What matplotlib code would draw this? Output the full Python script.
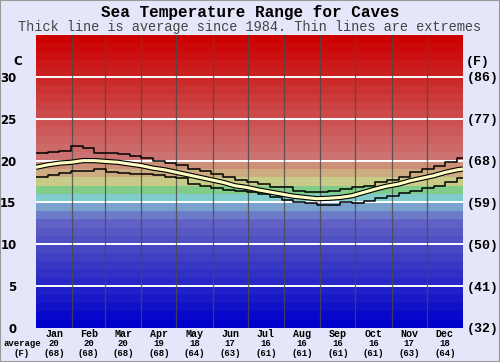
import matplotlib
matplotlib.use('Agg')
import matplotlib.pyplot as plt
from matplotlib.patches import Rectangle

# daily extremes / average, every 10 days
days = [0, 10, 20, 30, 40, 50, 60, 70, 80, 90, 100, 110, 120, 130, 140, 150, 160, 170, 180,
        190, 200, 210, 220, 230, 240, 250, 260, 270, 280, 290, 300, 310, 320, 330, 340, 350, 360]
t_max = [20.9, 21.0, 21.2, 21.7, 21.5, 20.9, 20.9, 20.8, 20.6, 20.3, 20.0, 19.7, 19.5, 19.0,
         18.8, 18.4, 18.0, 17.7, 17.5, 17.2, 16.9, 16.8, 16.4, 16.2, 16.2, 16.4, 16.6, 16.8,
         17.0, 17.4, 17.7, 18.0, 18.6, 19.0, 19.3, 19.8, 20.3]
t_avg = [19.2, 19.5, 19.7, 19.8, 20.0, 20.0, 19.9, 19.8, 19.6, 19.4, 19.1, 18.9, 18.6, 18.3,
         18.0, 17.7, 17.4, 17.0, 16.8, 16.5, 16.25, 16.0, 15.75, 15.6, 15.45, 15.5, 15.6, 15.8,
         16.2, 16.6, 16.95, 17.2, 17.6, 17.9, 18.2, 18.6, 18.9]
t_min = [18.1, 18.3, 18.5, 18.8, 18.8, 19.0, 18.6, 18.5, 18.4, 18.4, 18.3, 18.1, 17.9, 17.2,
         17.0, 16.75, 16.5, 16.35, 16.2, 16.0, 15.7, 15.3, 15.05, 14.9, 14.75, 14.7, 15.0, 14.9,
         15.2, 15.5, 15.8, 16.1, 16.4, 16.7, 17.0, 17.4, 17.9]

months = ['Jan', 'Feb', 'Mar', 'Apr', 'May', 'Jun', 'Jul', 'Aug', 'Sep', 'Oct', 'Nov', 'Dec']
month_len = [31, 28, 31, 30, 31, 30, 31, 31, 30, 31, 30, 31]
month_c = [20, 20, 20, 19, 18, 17, 16, 16, 16, 16, 17, 18]
month_f = [68, 68, 68, 68, 64, 63, 61, 61, 61, 61, 63, 64]

ticks_c = [0, 5, 10, 15, 20, 25, 30]
ticks_f = ['(32)', '(41)', '(50)', '(59)', '(68)', '(77)', '(86)']

# 1 degree colour bands, 0C .. 34C
bands = ['#0000cc', '#0808cc', '#1010c8', '#1818c8', '#2020c8', '#2828c8', '#3030c4',
         '#3838c4', '#4040c4', '#4848c4', '#5050c4', '#5858c4', '#6262c6', '#6c7cc8',
         '#7aa2cc', '#80cccc', '#80cc88', '#c8cc88', '#ccac80', '#cc9078', '#cc7272',
         '#cc6a6a', '#cc6262', '#cc5a5a', '#cc5252', '#cc4a4a', '#cc4242', '#cc3a3a',
         '#cc3232', '#cc2a2a', '#cc2020', '#cc1818', '#cc1010', '#cc0808', '#cc0000']

BG = '#e6e6fa'
MONO = 'Liberation Mono'

fig = plt.figure(figsize=(5, 3.62), dpi=100, facecolor=BG)
ax = fig.add_axes([0.072, 0.094, 0.854, 0.809])

for i, c in enumerate(bands):
    ax.axhspan(i, i + 1, color=c, lw=0, zorder=0)

for t in ticks_c[1:]:
    ax.axhline(t, color='white', lw=1.4, zorder=1)

edges = [0]
for n in month_len:
    edges.append(edges[-1] + n)
for e in edges[1:-1]:
    ax.axvline(e, color='#4a4a4a', lw=0.9, alpha=0.8, zorder=1)

xs = days + [365]
ax.step(xs, t_max + [t_max[-1]], where='post', color='black', lw=1.1, zorder=3)
ax.step(xs, t_min + [t_min[-1]], where='post', color='black', lw=1.1, zorder=3)
ax.plot(xs, t_avg + [19.0], color='black', lw=3.8, solid_capstyle='butt', zorder=4)
ax.plot(xs, t_avg + [19.0], color='#ffffc4', lw=2.2, solid_capstyle='butt', zorder=5)

ax.set_xlim(0, 365)
ax.set_ylim(0, 35)
ax.set_xticks([])
ax.set_yticks(ticks_c)
ax.set_yticklabels([str(t) for t in ticks_c], fontsize=8.5, fontweight='bold',
                   family='DejaVu Sans')
ax.tick_params(axis='y', length=0, pad=14)
for s in ax.spines.values():
    s.set_visible(False)

ax2 = ax.twinx()
ax2.set_ylim(0, 35)
ax2.set_yticks(ticks_c)
ax2.set_yticklabels(ticks_f, fontsize=9.5, fontweight='bold', family=MONO)
ax2.tick_params(axis='y', length=0, pad=3)
for s in ax2.spines.values():
    s.set_visible(False)

ax.text(-14 * 365 / 427, 31.8, 'C', ha='right', va='center', fontsize=8.5,
        fontweight='bold', family='DejaVu Sans')
ax.text(365 + 3 * 365 / 427, 31.8, '(F)', ha='left', va='center', fontsize=9.5,
        fontweight='bold', family=MONO)

trans = ax.get_xaxis_transform()
for i, m in enumerate(months):
    mid = (edges[i] + edges[i + 1]) / 2
    ax.text(mid, -0.02, m, transform=trans, ha='center', va='center',
            fontsize=7.2, fontweight='bold', family=MONO)
    ax.text(mid, -0.052, str(month_c[i]), transform=trans, ha='center', va='center',
            fontsize=6.5, fontweight='bold', family=MONO)
    ax.text(mid, -0.086, '(%d)' % month_f[i], transform=trans, ha='center', va='center',
            fontsize=6.5, fontweight='bold', family=MONO)

fig.text(22 / 500, 1 - 343 / 362, 'average', ha='center', va='center', fontsize=6.5,
         fontweight='bold', family=MONO)
fig.text(22 / 500, 1 - 353 / 362, '(F)', ha='center', va='center', fontsize=6.5,
         fontweight='bold', family=MONO)

fig.text(0.5, 1 - 12 / 362, 'Sea Temperature Range for Caves', ha='center', va='center',
         fontsize=11.5, fontweight='bold', family=MONO)
fig.text(0.5, 1 - 27 / 362, 'Thick line is average since 1984. Thin lines are extremes',
         ha='center', va='center', fontsize=9.8, color='#444444', family=MONO)

fig.patches.append(Rectangle((0, 0), 1, 1, transform=fig.transFigure, fill=False,
                             edgecolor='#999999', lw=1.5))

fig.savefig('out.png', dpi=100, facecolor=BG)
